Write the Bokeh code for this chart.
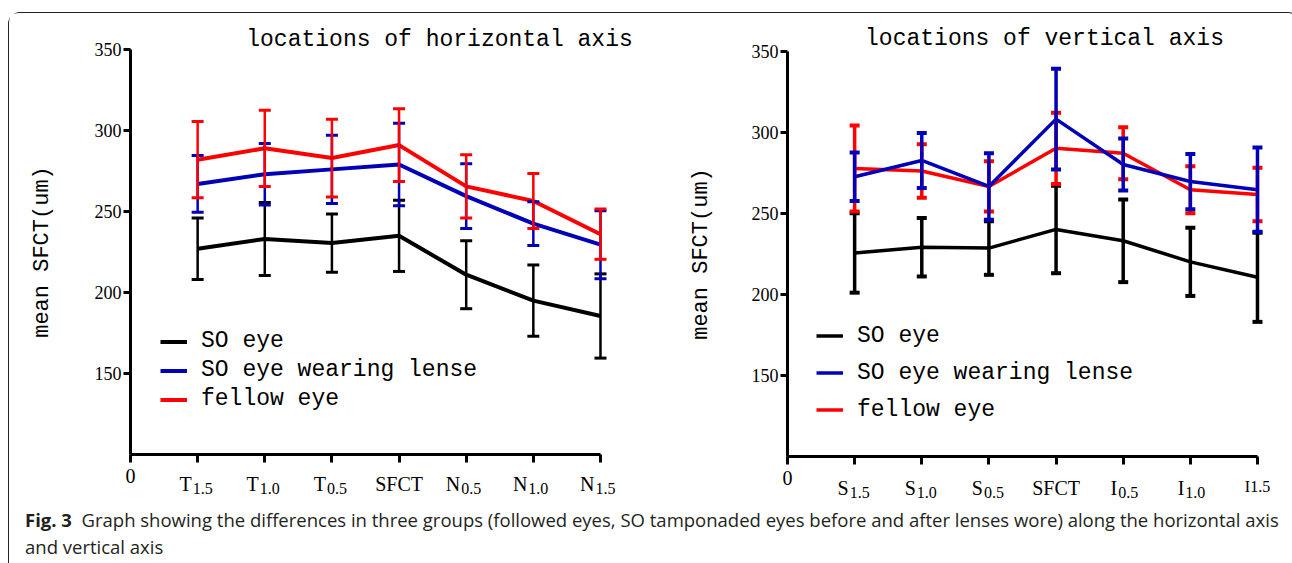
from bokeh.plotting import figure
from bokeh.models import (Range1d, FixedTicker, Label, Legend, LegendItem, Whisker,
                          TeeHead, ColumnDataSource, Div)
from bokeh.layouts import row, column
from bokeh.embed import file_html
from bokeh.resources import INLINE

# ---------------- data ----------------
h_base = ["T", "T", "T", "SFCT", "N", "N", "N"]
h_sub = ["1.5", "1.0", "0.5", "", "0.5", "1.0", "1.5"]
v_base = ["S", "S", "S", "SFCT", "I", "I", "I1.5"]
v_sub = ["1.5", "1.0", "0.5", "", "0.5", "1.0", ""]
positions = [1, 2, 3, 4, 5, 6, 7]
y_ticks = [150, 200, 250, 300, 350]

series_names = ["SO eye", "SO eye wearing lense", "fellow eye"]
series_colors = ["#000000", "#0000b8", "#ff0000"]

h_so = [227, 233, 230.5, 235, 211, 195, 185.5]
h_so_err = [19, 22.5, 18, 22, 21, 22, 26]
h_lens = [267, 273, 276, 279, 259.5, 242.5, 229.5]
h_lens_err = [17.5, 19, 21, 25.5, 20, 13.5, 21]
h_fellow = [282, 289, 283, 291, 265.5, 256.5, 236]
h_fellow_err = [23.5, 23.5, 24, 22.5, 19.5, 17, 15.5]

v_so = [225.5, 229, 228.5, 240, 233, 220, 210.5]
v_so_err = [24.5, 18, 16.5, 27, 25.5, 21, 27.5]
v_lens = [272.5, 282.5, 266.5, 308, 280, 269.5, 264.5]
v_lens_err = [15, 17, 20.5, 31, 16, 17, 26]
v_fellow = [277.5, 276, 266.5, 290, 287, 264.5, 261.5]
v_fellow_err = [26.5, 16.5, 15.5, 22, 16, 14.5, 16.5]

MONO = "Liberation Mono"
SERIF = "Liberation Serif"
FIG_H = 493


def make_panel(title, base, sub, series, order, width, origin, xscale, yscale,
               line_w, bar_w, cap, title_xy, legend_loc, row_h, label_standoff,
               tick_y, last_small):
    ox, oy = origin  # pixel position of the data origin (x=0, y=100) inside the figure
    x_range = Range1d(-ox / xscale, (width - ox) / xscale)
    y_range = Range1d(100 - (FIG_H - oy) / yscale, 100 + oy / yscale)
    p = figure(width=width, height=FIG_H, x_range=x_range, y_range=y_range,
               output_backend="svg", toolbar_location=None, tools="",
               min_border=0, min_border_left=0, min_border_right=0,
               min_border_top=0, min_border_bottom=0)
    p.outline_line_color = None
    p.grid.visible = False
    p.background_fill_color = "white"
    p.border_fill_color = "white"

    # axes, pinned to the data origin
    p.xaxis.fixed_location = 100
    p.yaxis.fixed_location = 0
    p.xaxis.bounds = (0, 7)
    p.yaxis.bounds = (100, 350)
    p.xaxis.ticker = FixedTicker(ticks=[0] + positions)
    p.xaxis.major_label_overrides = {0: "0", **{i: "" for i in positions}}
    p.yaxis.ticker = FixedTicker(ticks=y_ticks)
    for ax in (p.xaxis[0], p.yaxis[0]):
        ax.axis_line_width = 3
        ax.axis_line_color = "black"
        ax.major_tick_line_width = 3
        ax.major_tick_in = 0
        ax.minor_tick_line_color = None
        ax.major_label_text_font = SERIF
        ax.major_label_text_font_size = "18px"
        ax.major_label_text_color = "black"
    p.xaxis.major_tick_out = 8
    p.xaxis.major_label_standoff = 6
    p.xaxis.major_label_text_font_size = "20px"
    p.yaxis.major_tick_out = 7
    p.yaxis.major_label_standoff = 2
    p.yaxis.axis_label = "mean SFCT(um)"
    p.yaxis.axis_label_text_font = MONO
    p.yaxis.axis_label_text_font_size = "22px"
    p.yaxis.axis_label_text_font_style = "normal"
    p.yaxis.axis_label_text_color = "black"
    p.yaxis.axis_label_standoff = label_standoff

    items = []
    for idx in order:
        means, errs = series[idx]
        color = series_colors[idx]
        src = ColumnDataSource(dict(x=positions, y=means,
                                    upper=[m + e for m, e in zip(means, errs)],
                                    lower=[m - e for m, e in zip(means, errs)]))
        wh = Whisker(base="x", upper="upper", lower="lower", source=src,
                     line_color=color, line_width=bar_w, level="glyph",
                     upper_head=TeeHead(size=cap, line_color=color, line_width=bar_w + 0.5),
                     lower_head=TeeHead(size=cap, line_color=color, line_width=bar_w + 0.5))
        p.add_layout(wh)
        r = p.line("x", "y", source=src, line_color=color, line_width=line_w)
        items.append((idx, r))
    items.sort()
    legend = Legend(items=[LegendItem(label=series_names[i], renderers=[r]) for i, r in items],
                    location=legend_loc, padding=0, spacing=0, margin=0,
                    glyph_width=27, glyph_height=row_h, label_height=row_h,
                    label_standoff=14, label_text_font=MONO, label_text_font_size="23px",
                    label_text_color="black",
                    border_line_color=None, background_fill_alpha=0)
    p.add_layout(legend)

    p.add_layout(Label(x=title_xy[0], y=title_xy[1], x_units="screen", y_units="screen",
                       text=title, text_font=MONO, text_font_size="23px",
                       text_align="center", text_baseline="middle", text_color="black"))

    for pos, b, s in zip(positions, base, sub):
        if s:
            p.add_layout(Label(x=pos, y=100, y_offset=tick_y, x_offset=-6, text=b,
                               text_font=SERIF, text_font_size="20px", text_align="right",
                               text_baseline="middle", text_color="black"))
            p.add_layout(Label(x=pos, y=100, y_offset=tick_y - 5, x_offset=-5, text=s,
                               text_font=SERIF, text_font_size="16px", text_align="left",
                               text_baseline="middle", text_color="black"))
        else:
            small = last_small and pos == positions[-1]
            p.add_layout(Label(x=pos, y=100, y_offset=tick_y + (1 if small else 0), text=b,
                               text_font=SERIF,
                               text_font_size="16px" if small else "20px",
                               text_align="center", text_baseline="middle", text_color="black"))
    return p


p1 = make_panel("locations of horizontal axis", h_base, h_sub,
                [(h_so, h_so_err), (h_lens, h_lens_err), (h_fellow, h_fellow_err)],
                order=[0, 1, 2], width=640, origin=(121, 441), xscale=67.14, yscale=1.62,
                line_w=4, bar_w=2.5, cap=12, title_xy=(430, 467), legend_loc=(151, 92.5),
                row_h=29, label_standoff=37, tick_y=-29, last_small=False)

p2 = make_panel("locations of vertical axis", v_base, v_sub,
                [(v_so, v_so_err), (v_lens, v_lens_err), (v_fellow, v_fellow_err)],
                order=[0, 2, 1], width=640, origin=(138, 443), xscale=67.14, yscale=1.622,
                line_w=3.5, bar_w=3.5, cap=10, title_xy=(395, 468), legend_loc=(167, 78),
                row_h=37, label_standoff=35, tick_y=-31, last_small=True)

caption = Div(text=("<b>Fig. 3</b>&nbsp; Graph showing the differences in three groups "
                    "(followed eyes, SO tamponaded eyes before and after lenses wore) along "
                    "the horizontal axis<br>and vertical axis"),
              width=1280, height=56,
              styles={"font-family": "Open Sans", "font-size": "18.5px", "color": "#231f20",
                      "line-height": "27px", "padding-left": "11px", "margin-top": "0px"})

layout = column(row(p1, p2), caption,
                styles={"border-left": "1px solid #222", "border-top": "1px solid #222",
                        "border-right": "1px solid #222", "border-radius": "12px 12px 0 0",
                        "margin-top": "12px", "margin-left": "8px"})

open("out.html", "w").write(file_html(layout, INLINE))
